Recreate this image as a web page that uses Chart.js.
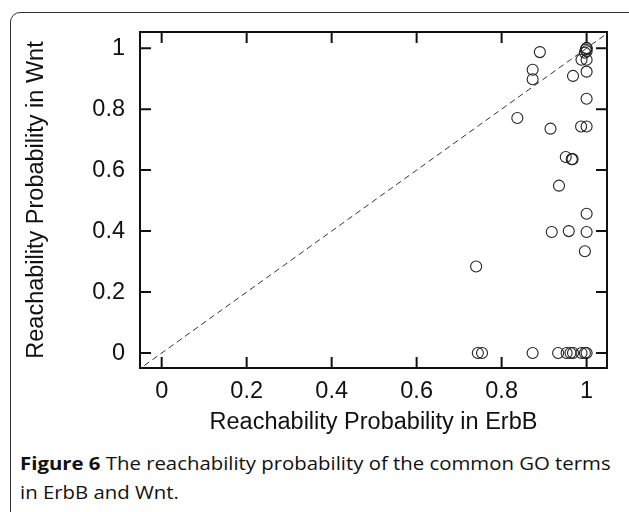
<!DOCTYPE html>
<html>
<head>
<meta charset="utf-8">
<script src="https://cdn.jsdelivr.net/npm/chart.js@4.4.0/dist/chart.umd.min.js"></script>
<style>
  html, body { margin: 0; padding: 0; background: #fff; }
  body { width: 629px; height: 512px; position: relative; overflow: hidden; }
  #frame {
    position: absolute; left: 10px; top: 12px; width: 640px; height: 520px;
    border: 1.5px solid #333; border-radius: 10px; box-sizing: border-box;
  }
  #wrap { position: absolute; left: 0; top: 0; width: 629px; height: 440px; }
  #caption {
    position: absolute; left: 20px; top: 448px; width: 545px;
    font-family: "Open Sans", sans-serif; font-size: 18.5px; line-height: 29px; color: #111;
    transform: scaleX(1.1); transform-origin: left top;
  }
  #caption b { font-weight: 700; }
</style>
</head>
<body>
<div id="frame"></div>
<div id="wrap"><canvas id="chartCanvas" width="629" height="440"></canvas></div>
<div id="caption"><b>Figure 6</b> The reachability probability of the common GO terms in ErbB and Wnt.</div>
<script>
// valores
const erbb = [
  0.890, 1.0, 1.0, 0.998, 1.0, 0.996,
  0.988, 1.0, 1.0, 0.968, 0.873, 0.873, 1.0,
  0.837, 0.915, 0.987, 1.0,
  0.951, 0.965, 0.967, 0.935,
  1.0, 0.918, 0.958, 1.0, 0.996, 0.740,
  0.744, 0.754, 0.873, 0.933, 0.953, 0.962, 0.968, 0.988, 0.996, 1.0
];
const wnt = [
  0.987, 1.0, 1.0, 0.995, 0.99, 0.985,
  0.962, 0.962, 0.923, 0.909, 0.929, 0.898, 0.834,
  0.771, 0.736, 0.743, 0.743,
  0.643, 0.636, 0.636, 0.549,
  0.457, 0.397, 0.400, 0.397, 0.334, 0.284,
  0, 0, 0, 0, 0, 0, 0, 0, 0, 0
];
const xTicks = [0, 0.2, 0.4, 0.6, 0.8, 1];
const yTicks = [0, 0.2, 0.4, 0.6, 0.8, 1];
const xRange = [-0.051, 1.048];
const yRange = [-0.049, 1.053];
const diag = [-0.06, 1.06];

const puntos = erbb.map((v, i) => ({ x: v, y: wnt[i] }));
const linea = diag.map(v => ({ x: v, y: v }));

// marco y marcas hacia adentro, como en R
const marcoPlugin = {
  id: 'marco',
  afterDatasetsDraw(chart) {
    const { ctx, chartArea: a, scales } = chart;
    const len = 11;
    ctx.save();
    ctx.strokeStyle = '#111';
    ctx.lineWidth = 2;
    ctx.strokeRect(a.left, a.top, a.right - a.left, a.bottom - a.top);
    ctx.beginPath();
    xTicks.forEach(t => {
      const px = scales.x.getPixelForValue(t);
      ctx.moveTo(px, a.bottom); ctx.lineTo(px, a.bottom - len);
      ctx.moveTo(px, a.top); ctx.lineTo(px, a.top + len);
    });
    yTicks.forEach(t => {
      const py = scales.y.getPixelForValue(t);
      ctx.moveTo(a.left, py); ctx.lineTo(a.left + len, py);
      ctx.moveTo(a.right, py); ctx.lineTo(a.right - len, py);
    });
    ctx.stroke();
    ctx.restore();
  }
};

const fuente = { family: '"Liberation Sans", Arial, sans-serif', size: 23.5 };

const ctx = document.getElementById('chartCanvas').getContext('2d');
new Chart(ctx, {
  type: 'scatter',
  data: {
    datasets: [
      {
        label: 'terms',
        data: puntos,
        pointStyle: 'circle',
        pointRadius: 5.5,
        pointBorderWidth: 1.1,
        borderColor: '#222',
        backgroundColor: 'rgba(0,0,0,0)',
        order: 1
      },
      {
        label: 'y = x',
        type: 'line',
        data: linea,
        borderColor: '#333',
        borderWidth: 1,
        borderDash: [6, 4],
        pointRadius: 0,
        fill: false,
        order: 2
      }
    ]
  },
  options: {
    responsive: false,
    animation: false,
    layout: { padding: { left: 0, top: 32, right: 22, bottom: 0 } },
    plugins: { legend: { display: false }, tooltip: { enabled: false } },
    scales: {
      x: {
        type: 'linear',
        position: 'bottom',
        min: xRange[0],
        max: xRange[1],
        afterBuildTicks: s => { s.ticks = xTicks.map(v => ({ value: v })); },
        afterFit: s => { s.height = 72; },
        grid: { display: false, drawTicks: false },
        border: { display: false },
        ticks: { color: '#111', font: fuente, padding: 9, maxRotation: 0, callback: v => String(v) },
        title: { display: true, text: 'Reachability Probability in ErbB', color: '#111', font: fuente, padding: { top: 0, bottom: 3 } }
      },
      y: {
        type: 'linear',
        position: 'left',
        min: yRange[0],
        max: yRange[1],
        afterBuildTicks: s => { s.ticks = yTicks.map(v => ({ value: v })); },
        afterFit: s => { s.width = 140; },
        grid: { display: false, drawTicks: false },
        border: { display: false },
        ticks: { color: '#111', font: fuente, padding: 15, callback: v => String(v) },
        title: { display: true, text: 'Reachability Probability in Wnt', color: '#111', font: fuente, padding: { top: 22, bottom: 0 } }
      }
    }
  },
  plugins: [marcoPlugin]
});
</script>
</body>
</html>
